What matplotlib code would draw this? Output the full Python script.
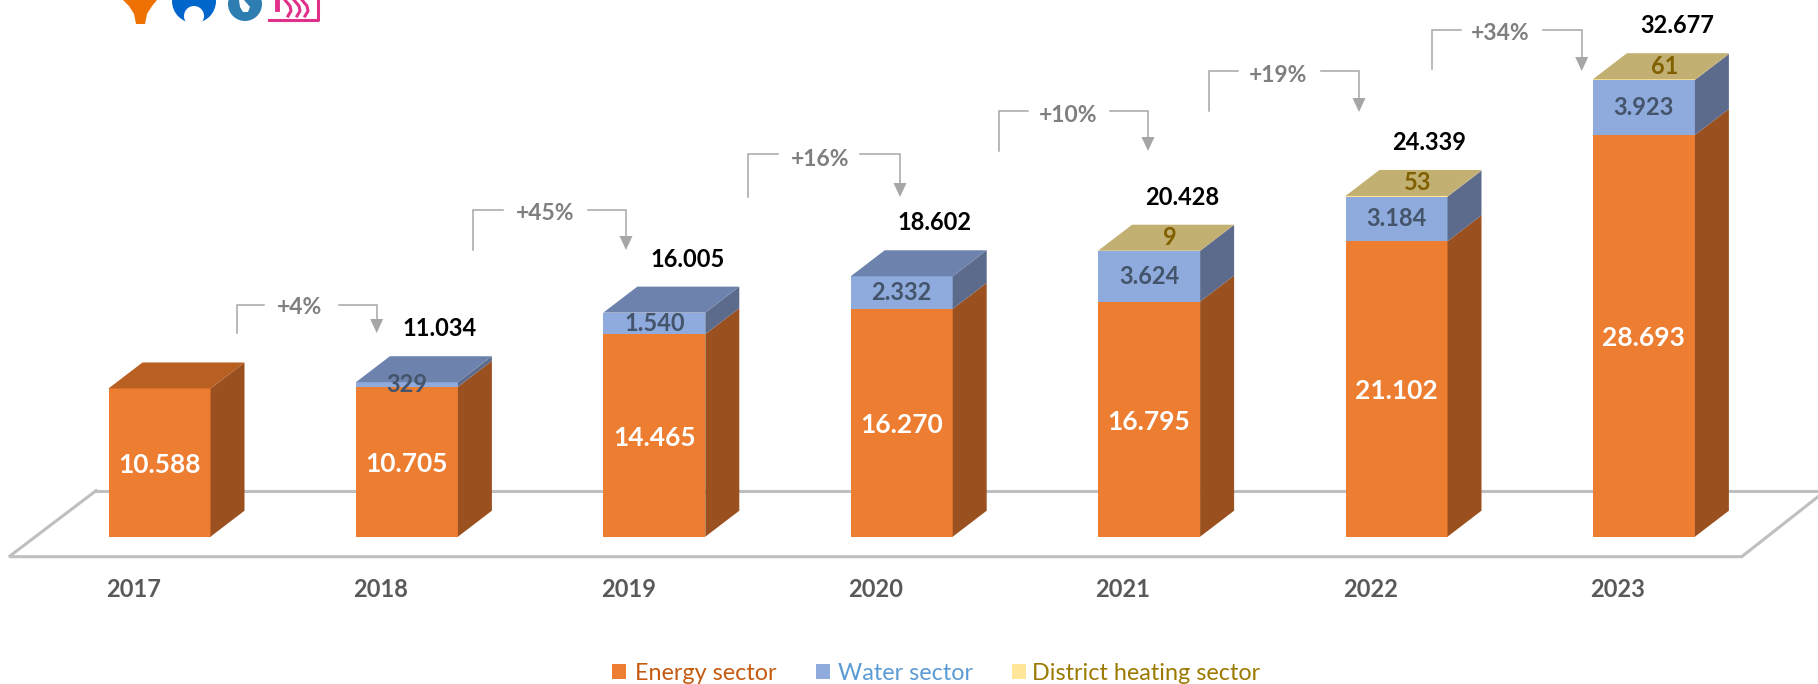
#!/usr/bin/env python3
"""Stacked pseudo-3D bars per sector, 2017-2023, with growth brackets."""
import matplotlib
matplotlib.use("Agg")
import matplotlib.pyplot as plt
import numpy as np
from matplotlib.patches import Circle, Polygon, Rectangle
from matplotlib.transforms import Affine2D

plt.rcParams["font.family"] = ["Lato", "DejaVu Sans"]

YEARS = ["2017", "2018", "2019", "2020", "2021", "2022", "2023"]
ENERGY = [10588, 10705, 14465, 16270, 16795, 21102, 28693]
WATER = [0, 329, 1540, 2332, 3624, 3184, 3923]
HEATING = [0, 0, 0, 0, 9, 53, 61]

ENERGY_LABELS = ["10.588", "10.705", "14.465", "16.270", "16.795", "21.102", "28.693"]
WATER_LABELS = ["", "329", "1.540", "2.332", "3.624", "3.184", "3.923"]
HEATING_LABELS = ["", "", "", "", "9", "53", "61"]
TOTAL_LABELS = ["", "11.034", "16.005", "18.602", "20.428", "24.339", "32.677"]
GROWTH_LABELS = ["+4%", "+45%", "+16%", "+10%", "+19%", "+34%"]

W, H = 1818, 684
# axes fill the figure: one category = 247.4 px, one unit = 0.014 px
PX_CAT = 247.4
PX_VAL = 0.014
X0_PX, Y0_PX = 159.5, 536.7
BAR_W = 102 / PX_CAT
DX = 34 / PX_CAT   # depth of the fake 3D box
DY = 26 / PX_VAL

fig = plt.figure(figsize=(W / 100, H / 100), dpi=100)
ax = fig.add_axes([0, 0, 1, 1])
ax.set_xlim(-X0_PX / PX_CAT, (W - X0_PX) / PX_CAT)
ax.set_ylim(-(H - Y0_PX) / PX_VAL, Y0_PX / PX_VAL)
ax.axis("off")

# top-left-origin pixel coords for the decorations
px = Affine2D().scale(1, -1).translate(0, H)

# floor
ax.plot([96, 1818], [490.7, 490.7], color="#BFBFBF", lw=2.2, transform=px, zorder=1)
ax.plot([96, 9, 1741.7, 1818], [490.7, 556.7, 556.7, 496.7], color="#BFBFBF", lw=2.2,
        transform=px, zorder=1, solid_joinstyle="miter")

C_FRONT = ["#ED7D31", "#8FAADC", "#FFE699"]
C_SIDE = ["#9A501F", "#5C6B8C", "#A6955F"]
C_TOP = ["#B85F22", "#6D83AD", "#C2AF72"]

idx = np.arange(len(YEARS))
stack = np.array([ENERGY, WATER, HEATING], dtype=float)
LOW = 2.5 / PX_VAL  # labels sit a little under their nominal centre
for i in idx:
    bottom = 0.0
    left, right = i - BAR_W / 2, i + BAR_W / 2
    top_series = 0
    for s in range(3):
        v = stack[s, i]
        if v <= 0:
            continue
        ax.bar(i, v, BAR_W, bottom=bottom, color=C_FRONT[s], zorder=3)
        ax.fill([right, right + DX, right + DX, right],
                [bottom, bottom + DY, bottom + v + DY, bottom + v],
                color=C_SIDE[s], lw=0, zorder=3)
        bottom += v
        top_series = s
    ax.fill([left, right, right + DX, left + DX],
            [bottom, bottom, bottom + DY, bottom + DY],
            color=C_TOP[top_series], lw=0, zorder=3)

    ax.text(i, ENERGY[i] / 2 - LOW, ENERGY_LABELS[i], color="white", fontsize=19,
            fontweight="bold", ha="center", va="center", zorder=5)
    if WATER_LABELS[i]:
        ax.text(i, ENERGY[i] + WATER[i] / 2, WATER_LABELS[i], color="#44546A", fontsize=17,
                fontweight="bold", ha="center", va="center", zorder=5)
    if HEATING_LABELS[i]:
        ax.text(i + 21 / PX_CAT, bottom + 13 / PX_VAL, HEATING_LABELS[i], color="#806000",
                fontsize=17, fontweight="bold", ha="center", va="center", zorder=5)
    if TOTAL_LABELS[i]:
        ax.text(i + 33 / PX_CAT, bottom + 56 / PX_VAL - LOW, TOTAL_LABELS[i], color="black",
                fontsize=17, fontweight="bold", ha="center", va="center", zorder=5)
    ax.text(i - 26 / PX_CAT, -53 / PX_VAL, YEARS[i], color="#595959", fontsize=17,
            fontweight="bold", ha="center", va="center", zorder=5)

# growth brackets: x0, top, bottom, gap left, gap right, x1, tip, text x, text y
BRACKETS = [
    (236.7, 305, 333, 264, 339, 376.7, 333, 300, 308),
    (473, 210, 250, 503, 588, 626, 250, 545, 213),
    (748, 154, 197, 778, 860, 900, 197, 820, 159),
    (999, 111, 151, 1028, 1110, 1148, 151, 1068, 116),
    (1209, 71, 111, 1238, 1321, 1359, 112, 1278, 75),
    (1431.7, 30, 69, 1461, 1543, 1581.7, 71, 1500, 34),
]
GREY = "#A6A6A6"
for label, (x0, top, bot, gl, gr, x1, tip, tx, ty) in zip(GROWTH_LABELS, BRACKETS):
    ax.plot([x0, x0, gl], [bot, top, top], color=GREY, lw=1.1, transform=px, zorder=2,
            solid_joinstyle="miter")
    ax.plot([gr, x1, x1], [top, top, tip - 10], color=GREY, lw=1.1, transform=px, zorder=2,
            solid_joinstyle="miter")
    ax.add_patch(Polygon([(x1 - 6.5, tip - 14), (x1 + 6.5, tip - 14), (x1, tip)], closed=True,
                         color=GREY, lw=0, transform=px, zorder=2))
    ax.text(tx, ty, label, color="#7F7F7F", fontsize=16.5, fontweight="bold", ha="center",
            va="center", transform=px)

# legend, by hand to keep the spacing of the original
LEGEND = [("Energy sector", "#ED7D31", "#C55A11", 612, 635),
          ("Water sector", "#8FAADC", "#5B9BD5", 816, 838),
          ("District heating sector", "#FFE699", "#9C7A00", 1012, 1032)]
for name, patch_c, text_c, xp, xt in LEGEND:
    ax.add_patch(Rectangle((xp, 664), 14, 15, color=patch_c, lw=0, transform=px))
    ax.text(xt, 673, name, color=text_c, fontsize=16.8, ha="left", va="center", transform=px)

# cropped logos along the top edge
ax.add_patch(Polygon([(123, 0), (129, 6), (134, 14), (136, 24), (145, 24), (147, 14), (152, 6),
                      (157, 0)], closed=True, color="#EE7203", lw=0, transform=px))
ax.add_patch(Circle((194, 1), 22, color="#0066CC", lw=0, transform=px))
ax.add_patch(Circle((194, 16), 10, color="white", lw=0, transform=px, zorder=3))
ax.add_patch(Circle((245, 4), 17, color="#2E7DB0", lw=0, transform=px))
ax.add_patch(Polygon([(239, 0), (244, 0), (250, 7), (248, 12), (243, 12), (240, 7)], closed=True,
                     color="white", lw=0, transform=px, zorder=3))
ax.plot([269, 318, 318], [20, 20, 0], color="#E0308A", lw=2.2, transform=px)
ax.plot([277, 277], [0, 9], color="#E0308A", lw=3.5, transform=px)
for xw in (288, 297, 305):
    ax.plot([xw - 3, xw + 2, xw + 3, xw], [0, 6, 11, 16], color="#E0308A", lw=2.2, transform=px)

fig.savefig("out.png", dpi=100)
